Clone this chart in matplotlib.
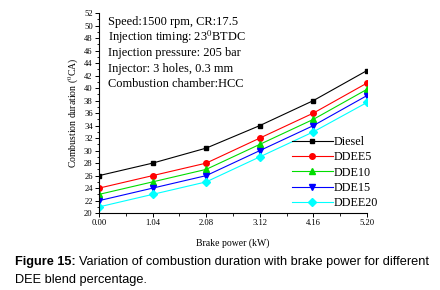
import matplotlib
matplotlib.use("Agg")
import matplotlib.pyplot as plt

# Data
power = [0.00, 1.04, 2.08, 3.12, 4.16, 5.20]
diesel = [26, 28, 30.4, 34, 38, 42.8]
ddee5 = [24, 26, 28, 32, 36, 40.8]
dde10 = [23, 25, 27, 31, 35, 39.8]
dde15 = [22, 24, 26, 30, 34, 38.8]
ddee20 = [21, 23, 25, 29, 33, 37.7]
labels = ["Diesel", "DDEE5", "DDE10", "DDE15", "DDEE20"]

plt.rcParams["mathtext.fontset"] = "stix"
serif = ["Liberation Serif", "DejaVu Serif"]

fig = plt.figure(figsize=(4.4, 2.9), dpi=100)
ax = fig.add_axes([0.225, 0.265, 0.609, 0.69])

series = [diesel, ddee5, dde10, dde15, ddee20]
colors = ["black", "red", "#00dd00", "blue", "cyan"]
markers = ["s", "o", "^", "v", "D"]
sizes = [3.2, 4, 4, 4, 3.6]
for vals, lab, c, m, s in zip(series, labels, colors, markers, sizes):
    ax.plot(power, vals, color=c, marker=m, markersize=s, lw=0.8, label=lab)

ax.set_xlim(0, 5.2)
ax.set_ylim(20, 52)
ax.set_xticks(power)
ax.set_xticklabels(["%.2f" % p for p in power])
ax.set_xticks([0.52, 1.56, 2.60, 3.64, 4.68], minor=True)
ax.set_yticks(range(20, 53, 2))
ax.set_yticks(range(21, 52, 2), minor=True)
for sp in ["top", "right"]:
    ax.spines[sp].set_visible(False)
ax.tick_params(axis="both", which="major", direction="out", length=3, width=0.7, labelsize=6.2, pad=1.5)
ax.tick_params(axis="both", which="minor", direction="out", length=1.8, width=0.6)
for t in ax.get_xticklabels() + ax.get_yticklabels():
    t.set_family(serif)

ax.set_xlabel("Brake power (kW)", family=serif, fontsize=7, labelpad=8)
ax.set_ylabel(r"Combustion duration ($^{0}$CA)", family=serif, fontsize=7, labelpad=2)

info = ["Speed:1500 rpm, CR:17.5",
        r"Injection timing: 23$^{0}$BTDC",
        "Injection pressure: 205 bar",
        "Injector: 3 holes, 0.3 mm",
        "Combustion chamber:HCC"]
for i, line in enumerate(info):
    ax.text(0.035, 0.94 - i * 0.0775, line, transform=ax.transAxes, family=serif,
            fontsize=8.9, va="baseline", ha="left")

leg = ax.legend(loc="lower right", bbox_to_anchor=(1.06, -0.005), frameon=False,
                prop={"family": serif, "size": 8.7}, handlelength=3.4,
                labelspacing=0.28, handletextpad=0.1, borderaxespad=0)

# caption: bold "Figure 15:" followed by normal text
cap_size = 9.2
head = fig.text(0.035, 0.085, "Figure 15:", family="Liberation Sans", weight="bold", fontsize=cap_size)
fig.canvas.draw()
bb = head.get_window_extent(fig.canvas.get_renderer())
fig.text(bb.x1 / fig.bbox.width + 0.006, 0.085,
         "Variation of combustion duration with brake power for different",
         family="Liberation Sans", fontsize=cap_size)
fig.text(0.035, 0.023, "DEE blend percentage.", family="Liberation Sans", fontsize=cap_size)

fig.savefig("out.png", dpi=100)
